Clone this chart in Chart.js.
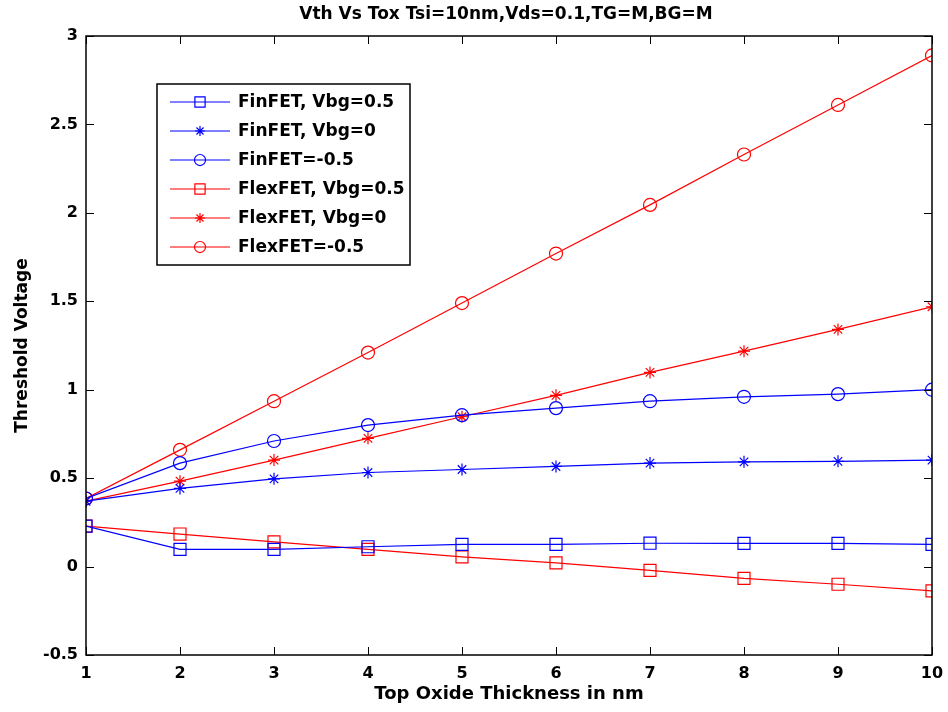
<!DOCTYPE html>
<html>
<head>
<meta charset="utf-8">
<script src="https://cdn.jsdelivr.net/npm/chart.js@4.4.1/dist/chart.umd.min.js"></script>
<style>
  body { margin: 0; background: #fff; }
  canvas { display: block; }
</style>
</head>
<body>
<canvas id="chart" width="948" height="712"></canvas>
<script>
// data
const thickness = [1, 2, 3, 4, 5, 6, 7, 8, 9, 10];
const finVbgPos = [0.229, 0.097, 0.097, 0.112, 0.125, 0.125, 0.132, 0.131, 0.131, 0.125];
const finVbgZero = [0.37, 0.442, 0.496, 0.532, 0.549, 0.566, 0.585, 0.592, 0.595, 0.602];
const finVbgNeg = [0.385, 0.585, 0.71, 0.80, 0.856, 0.896, 0.935, 0.96, 0.975, 1.0];
const flexVbgPos = [0.229, 0.184, 0.14, 0.097, 0.055, 0.021, -0.022, -0.067, -0.10, -0.137];
const flexVbgZero = [0.37, 0.483, 0.602, 0.725, 0.847, 0.968, 1.098, 1.218, 1.341, 1.469];
const flexVbgNeg = [0.385, 0.66, 0.935, 1.21, 1.49, 1.77, 2.045, 2.33, 2.61, 2.89];
const yTicks = [-0.5, 0, 0.5, 1, 1.5, 2, 2.5, 3];

const BLUE = "#0000ff";
const RED = "#ff0000";
const FONT = "'DejaVu Sans', Arial, sans-serif";

function series(label, data, color, style) {
  let r = 6.5;
  if (style === "rect") r = 8.5;
  if (style === "star") r = 6;
  return {
    label: label,
    data: data.map((v, i) => ({ x: thickness[i], y: v })),
    borderColor: color,
    backgroundColor: "transparent",
    borderWidth: 1.2,
    pointStyle: style,
    pointRadius: r,
    pointBorderWidth: 1.2,
    pointBorderColor: color,
    pointBackgroundColor: "transparent",
    tension: 0,
  };
}

const datasets = [
  series("FinFET, Vbg=0.5", finVbgPos, BLUE, "rect"),
  series("FinFET, Vbg=0", finVbgZero, BLUE, "star"),
  series("FinFET=-0.5", finVbgNeg, BLUE, "circle"),
  series("FlexFET, Vbg=0.5", flexVbgPos, RED, "rect"),
  series("FlexFET, Vbg=0", flexVbgZero, RED, "star"),
  series("FlexFET=-0.5", flexVbgNeg, RED, "circle"),
];

// box, inside ticks, title and legend (matlab look)
const matlabFrame = {
  id: "matlabFrame",
  afterDraw(chart) {
    const ctx = chart.ctx;
    const a = chart.chartArea;
    const xs = chart.scales.x;
    const ys = chart.scales.y;
    ctx.save();
    ctx.strokeStyle = "#000";
    ctx.lineWidth = 1.5;
    ctx.strokeRect(a.left, a.top, a.right - a.left, a.bottom - a.top);
    ctx.lineWidth = 1;
    thickness.forEach(function (t) {
      const px = Math.round(xs.getPixelForValue(t)) + 0.5;
      ctx.beginPath();
      ctx.moveTo(px, a.bottom); ctx.lineTo(px, a.bottom - 8);
      ctx.moveTo(px, a.top); ctx.lineTo(px, a.top + 8);
      ctx.stroke();
    });
    yTicks.forEach(function (t) {
      const py = Math.round(ys.getPixelForValue(t)) + 0.5;
      ctx.beginPath();
      ctx.moveTo(a.left, py); ctx.lineTo(a.left + 8, py);
      ctx.moveTo(a.right, py); ctx.lineTo(a.right - 8, py);
      ctx.stroke();
    });

    // title
    ctx.fillStyle = "#000";
    ctx.font = "bold 17px " + FONT;
    ctx.textAlign = "center";
    ctx.textBaseline = "middle";
    ctx.fillText("Vth Vs Tox Tsi=10nm,Vds=0.1,TG=M,BG=M", 506, 15);

    // legend box
    const lx = 157, ly = 84, lw = 253, lh = 181;
    ctx.fillStyle = "#fff";
    ctx.fillRect(lx, ly, lw, lh);
    ctx.lineWidth = 1.5;
    ctx.strokeStyle = "#000";
    ctx.strokeRect(lx, ly, lw, lh);
    ctx.font = "bold 17px " + FONT;
    ctx.textAlign = "left";
    chart.data.datasets.forEach(function (ds, i) {
      const yy = 102 + i * 29;
      ctx.strokeStyle = ds.borderColor;
      ctx.lineWidth = 1.2;
      ctx.beginPath();
      ctx.moveTo(170, yy); ctx.lineTo(230, yy);
      ctx.stroke();
      ctx.fillStyle = "rgba(0,0,0,0)";
      Chart.helpers.drawPoint(ctx, {
        pointStyle: ds.pointStyle,
        radius: ds.pointStyle === "star" ? 5 : ds.pointRadius * 0.85,
        borderWidth: 1.2,
        rotation: 0,
      }, 200, yy);
      ctx.fillStyle = "#000";
      ctx.fillText(ds.label, 238, yy + 1);
    });
    ctx.restore();
  },
};

new Chart(document.getElementById("chart"), {
  type: "line",
  data: { datasets: datasets },
  plugins: [matlabFrame],
  options: {
    responsive: false,
    animation: false,
    layout: { padding: { left: 0, top: 36, right: 16, bottom: 0 } },
    plugins: {
      legend: { display: false },
      title: { display: false },
      tooltip: { enabled: false },
    },
    scales: {
      x: {
        type: "linear",
        min: 1,
        max: 10,
        afterFit: function (scale) {
          scale.height = 57;
          scale.paddingLeft = 0;
          scale.paddingRight = 0;
        },
        afterBuildTicks: function (scale) {
          scale.ticks = thickness.map(function (v) { return { value: v }; });
        },
        grid: { display: false, drawTicks: false },
        border: { display: false },
        ticks: {
          padding: 9,
          color: "#000",
          font: { family: FONT, size: 16, weight: "bold" },
          maxRotation: 0,
          callback: function (v) { return String(v); },
        },
        title: {
          display: true,
          text: "Top Oxide Thickness in nm",
          color: "#000",
          font: { family: FONT, size: 18, weight: "bold" },
          padding: { top: 0, bottom: 7 },
        },
      },
      y: {
        type: "linear",
        min: -0.5,
        max: 3,
        afterFit: function (scale) { scale.width = 86; },
        afterBuildTicks: function (scale) {
          scale.ticks = yTicks.map(function (v) { return { value: v }; });
        },
        grid: { display: false, drawTicks: false },
        border: { display: false },
        ticks: {
          padding: 8,
          color: "#000",
          font: { family: FONT, size: 16, weight: "bold" },
          callback: function (v) { return String(v); },
        },
        title: {
          display: true,
          text: "Threshold Voltage",
          color: "#000",
          font: { family: FONT, size: 17, weight: "bold" },
          padding: { top: 12, bottom: 0 },
        },
      },
    },
  },
});
</script>
</body>
</html>
